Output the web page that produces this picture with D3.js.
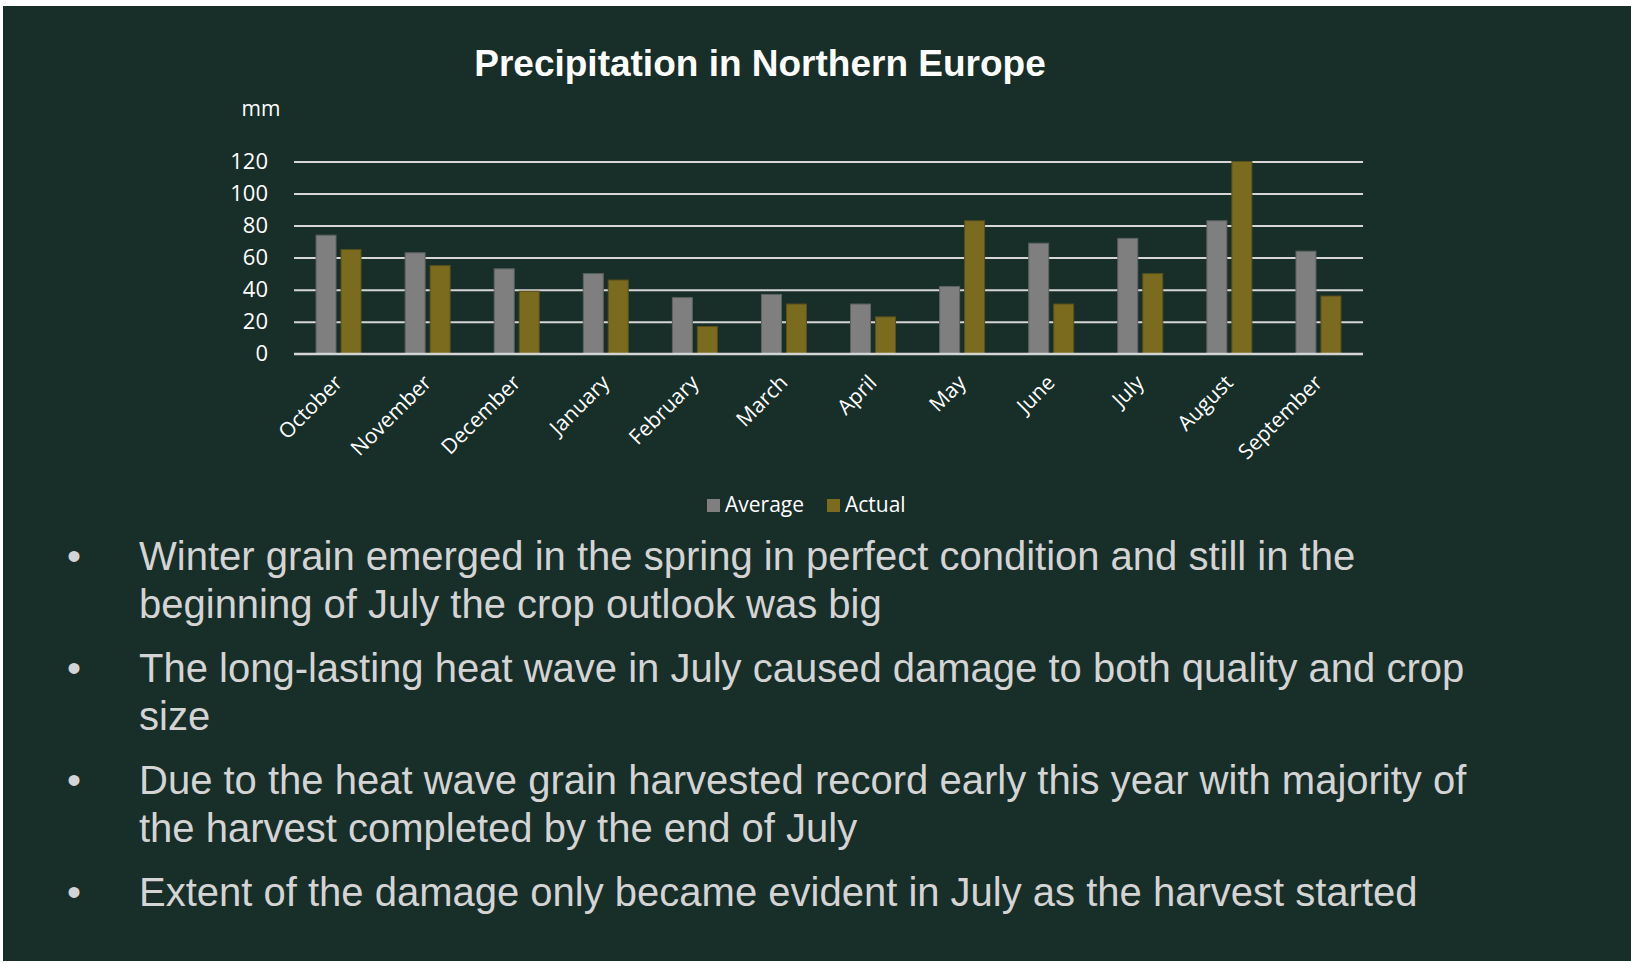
<!DOCTYPE html>
<html>
<head>
<meta charset="utf-8">
<script src="https://cdn.jsdelivr.net/npm/d3@7"></script>
<style>
  html, body { margin: 0; padding: 0; background: #ffffff; }
  svg { display: block; }
</style>
</head>
<body>
<div id="chart"></div>
<script>
// Données
const months = ["October", "November", "December", "January", "February", "March",
                "April", "May", "June", "July", "August", "September"];
const series = ["Average", "Actual"];
const averageValues = [74, 63, 53, 50, 35, 37, 31, 42, 69, 72, 83, 64];
const actualValues  = [65, 55, 39, 46, 17, 31, 23, 83, 31, 50, 120, 36];
const yTicks = [0, 20, 40, 60, 80, 100, 120];

const bullets = [
  ["Winter grain emerged in the spring in perfect condition and still in the",
   "beginning of July the crop outlook was big"],
  ["The long-lasting heat wave in July caused damage to both quality and crop",
   "size"],
  ["Due to the heat wave grain harvested record early this year with majority of",
   "the harvest completed by the end of July"],
  ["Extent of the damage only became evident in July as the harvest started"]
];

// 1. Dimensions
const W = 1631, H = 963;
const plot = { left: 294, right: 1363, top: 161.5, bottom: 353.7 };

const svg = d3.select("#chart").append("svg")
  .attr("width", W)
  .attr("height", H);

// fond vert foncé (bord blanc en haut / à gauche)
svg.append("rect")
  .attr("x", 3).attr("y", 6)
  .attr("width", W - 3).attr("height", H - 8)
  .attr("fill", "#182e29");

// 2. Échelles
const x0 = d3.scaleBand().domain(months).range([plot.left, plot.right]);
const y = d3.scaleLinear().domain([0, 120]).range([plot.bottom, plot.top]);

const color = d => d === "Average" ? "#7f7f7f" : "#7b6b1e";
const strokeColor = d => d === "Average" ? "#5c6360" : "#5a501c";

const rows = months.map((m, i) => ({ month: m, Average: averageValues[i], Actual: actualValues[i] }));

// 3. Titre
svg.append("text")
  .attr("x", 760).attr("y", 76)
  .attr("text-anchor", "middle")
  .attr("fill", "#ffffff")
  .style("font-family", "'Liberation Sans', Arial, sans-serif")
  .style("font-weight", "bold")
  .style("font-size", "37px")
  .text("Precipitation in Northern Europe");

svg.append("text")
  .attr("x", 261).attr("y", 116)
  .attr("text-anchor", "middle")
  .attr("fill", "#ffffff")
  .style("font-family", "'Open Sans', sans-serif")
  .style("font-size", "21px")
  .text("mm");

// 4. Grille + axe Y
const yAxis = svg.append("g")
  .attr("transform", `translate(${plot.left},0)`)
  .call(d3.axisLeft(y).tickValues(yTicks).tickSize(-(plot.right - plot.left)).tickPadding(26));

yAxis.select(".domain").remove();
yAxis.selectAll(".tick line")
  .attr("stroke", "#d6d6d6")
  .attr("stroke-width", 2);
yAxis.selectAll(".tick text")
  .attr("fill", "#ffffff")
  .style("font-family", "'Open Sans', sans-serif")
  .style("font-size", "22px");

// 5. Barres
const x1 = d3.scaleBand().domain(series)
  .range([x0.bandwidth() / 2 - 22.5, x0.bandwidth() / 2 + 22.5])
  .paddingInner(0.2);

const groups = svg.selectAll(".month-group")
  .data(rows)
  .enter().append("g")
  .attr("class", "month-group")
  .attr("transform", d => `translate(${x0(d.month)},0)`);

groups.selectAll("rect")
  .data(d => series.map(s => ({ key: s, value: d[s] })))
  .enter().append("rect")
  .attr("x", d => x1(d.key))
  .attr("y", d => y(d.value))
  .attr("width", x1.bandwidth())
  .attr("height", d => y(0) - y(d.value))
  .attr("fill", d => color(d.key))
  .attr("stroke", d => strokeColor(d.key))
  .attr("stroke-width", 1);

// ligne du zéro par-dessus les barres
svg.append("line")
  .attr("x1", plot.left).attr("x2", plot.right)
  .attr("y1", y(0)).attr("y2", y(0))
  .attr("stroke", "#d6d6d6")
  .attr("stroke-width", 2);

// 6. Étiquettes des mois (inclinées à 45°)
svg.append("g").selectAll("text")
  .data(months)
  .enter().append("text")
  .attr("transform", d => `translate(${x0(d) + x0.bandwidth() / 2 + 5},384) rotate(-45)`)
  .attr("text-anchor", "end")
  .attr("fill", "#ffffff")
  .style("font-family", "'Open Sans', sans-serif")
  .style("font-size", "21px")
  .text(d => d);

// 7. Légende
const legendItems = [{ key: "Average", x: 707 }, { key: "Actual", x: 827 }];
const legend = svg.append("g").selectAll("g")
  .data(legendItems)
  .enter().append("g")
  .attr("transform", d => `translate(${d.x},499)`);

legend.append("rect")
  .attr("width", 13).attr("height", 13)
  .attr("fill", d => color(d.key));

legend.append("text")
  .attr("x", 18).attr("y", 13)
  .attr("fill", "#ffffff")
  .style("font-family", "'Open Sans', sans-serif")
  .style("font-size", "21px")
  .text(d => d.key);

// 8. Liste à puces
const bulletTop = [569.5, 681.8, 794.2, 905.5];
const lineHeight = 48;

bullets.forEach((lines, i) => {
  const g = svg.append("g")
    .style("font-family", "'Liberation Sans', Arial, sans-serif")
    .style("font-size", "40px")
    .attr("fill", "#d4d4d4");

  g.append("text")
    .attr("x", 67).attr("y", bulletTop[i])
    .text("•");

  g.selectAll(".line")
    .data(lines)
    .enter().append("text")
    .attr("class", "line")
    .attr("x", 139)
    .attr("y", (d, j) => bulletTop[i] + j * lineHeight)
    .text(d => d);
});
</script>
</body>
</html>
